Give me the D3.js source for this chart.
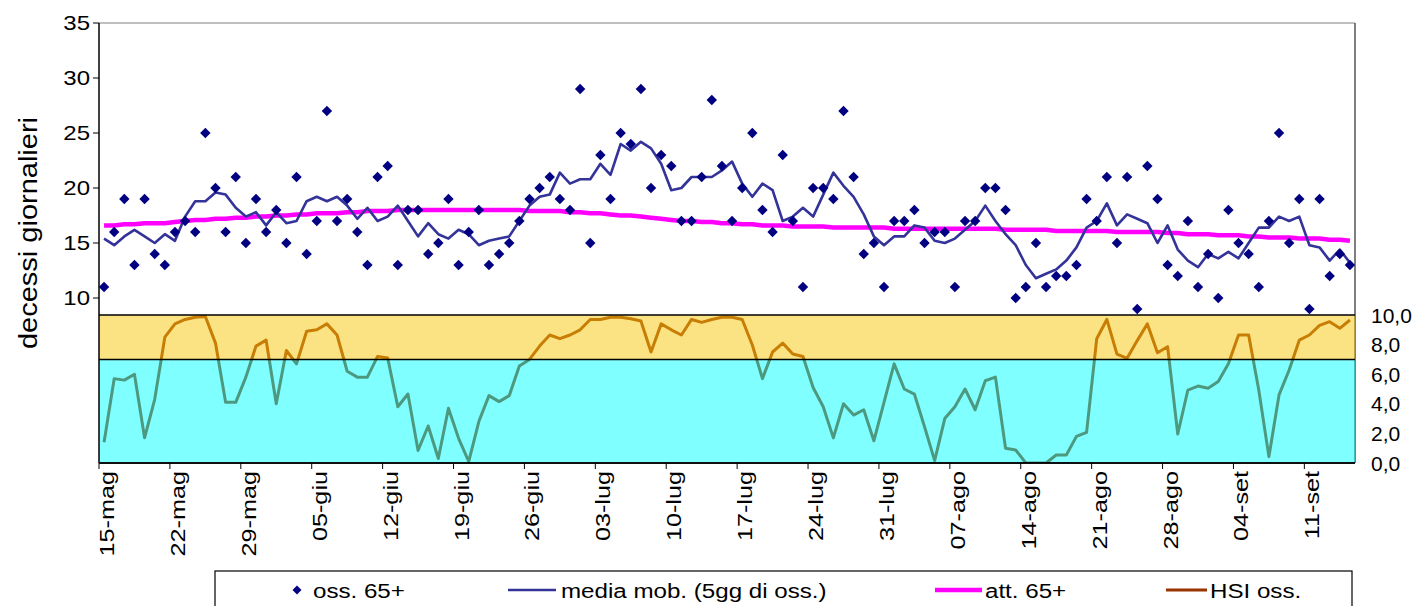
<!DOCTYPE html>
<html><head><meta charset="utf-8">
<script src="https://cdn.jsdelivr.net/npm/d3@7"></script>
<style>html,body{margin:0;padding:0;background:#fff;} svg{display:block;font-family:"Liberation Sans",Arial,sans-serif;}</style>
</head><body><svg id="c" width="1416" height="606"></svg>
<script>
const tickLabels = ["15-mag","22-mag","29-mag","05-giu","12-giu","19-giu","26-giu","03-lug","10-lug","17-lug","24-lug","31-lug","07-ago","14-ago","21-ago","28-ago","04-set","11-set"];
const leftTicks = [10,15,20,25,30,35];
const rightTicks = [0,2,4,6,8,10];
const obs65 = [11,16,19,13,19,14,13,16,17,16,25,20,16,21,15,19,16,18,15,21,14,17,27,17,19,16,13,21,22,13,18,18,14,15,19,13,16,18,13,14,15,17,19,20,21,19,18,29,15,23,19,25,24,29,20,23,22,17,17,21,28,22,17,20,25,18,16,23,17,11,20,20,19,27,21,14,15,11,17,17,18,15,16,16,11,17,17,20,20,18,10,11,15,11,12,12,13,19,17,21,15,21,9,22,19,13,12,17,11,14,10,18,15,14,11,17,25,15,19,9,19,12,14,13];
const mediaMob = [15.4,14.8,15.6,16.2,15.6,15.0,15.8,15.2,17.4,18.8,18.8,19.6,19.4,18.2,17.4,17.8,16.6,17.8,16.8,17.0,18.8,19.2,18.8,19.2,18.4,17.2,18.2,17.0,17.4,18.4,17.0,15.6,16.8,15.8,15.4,16.2,15.8,14.8,15.2,15.4,15.6,17.0,18.4,19.2,19.4,21.4,20.4,20.8,20.8,22.2,21.2,24.0,23.4,24.2,23.6,22.2,19.8,20.0,21.0,21.0,21.0,21.6,22.4,20.4,19.2,20.4,19.8,17.0,17.4,18.2,17.4,19.4,21.4,20.2,19.2,17.6,15.6,14.8,15.6,15.6,16.6,16.4,15.2,15.0,15.4,16.2,17.0,18.4,17.0,15.8,14.8,13.0,11.8,12.2,12.6,13.4,14.6,16.4,17.0,18.6,16.6,17.6,17.2,16.8,15.0,16.6,14.4,13.4,12.8,14.0,13.6,14.2,13.6,15.0,16.4,16.4,17.4,17.0,17.4,14.8,14.6,13.4,14.4,13.2];
const att65 = [16.6,16.6,16.7,16.7,16.8,16.8,16.8,16.9,17.0,17.1,17.1,17.2,17.2,17.3,17.3,17.4,17.4,17.5,17.5,17.6,17.6,17.7,17.7,17.7,17.8,17.8,17.9,17.9,17.9,18.0,18.0,18.0,18.0,18.0,18.0,18.0,18.0,18.0,18.0,18.0,18.0,18.0,17.9,17.9,17.9,17.9,17.8,17.8,17.7,17.7,17.6,17.5,17.5,17.4,17.3,17.2,17.1,17.0,17.0,16.9,16.9,16.8,16.8,16.7,16.7,16.6,16.6,16.6,16.5,16.5,16.5,16.5,16.4,16.4,16.4,16.4,16.4,16.4,16.3,16.3,16.3,16.3,16.3,16.3,16.3,16.3,16.3,16.3,16.3,16.2,16.2,16.2,16.2,16.2,16.1,16.1,16.1,16.1,16.1,16.1,16.0,16.0,16.0,16.0,16.0,15.9,15.9,15.8,15.8,15.8,15.7,15.7,15.7,15.6,15.6,15.5,15.5,15.5,15.4,15.4,15.4,15.3,15.3,15.2];
const hsiOss = [1.4,5.7,5.6,6.0,1.7,4.3,8.5,9.4,9.7,9.85,9.9,8.1,4.1,4.1,5.8,7.9,8.3,4.0,7.6,6.7,8.9,9.0,9.4,8.65,6.2,5.8,5.8,7.2,7.1,3.8,4.66,0.85,2.5,0.3,3.7,1.67,0.1,2.8,4.55,4.15,4.55,6.55,7.0,7.9,8.65,8.4,8.65,9.0,9.7,9.7,9.85,9.85,9.75,9.6,7.5,9.4,9.0,8.65,9.7,9.5,9.7,9.85,9.85,9.7,7.97,5.7,7.5,8.1,7.36,7.2,5.1,3.8,1.7,4.0,3.24,3.6,1.5,4.1,6.7,5.0,4.66,2.45,0.16,3.0,3.8,5.0,3.6,5.56,5.8,1.0,0.88,0.0,0.0,0.0,0.54,0.54,1.8,2.07,8.4,9.7,7.36,7.07,8.27,9.4,7.45,7.86,1.96,4.93,5.2,5.05,5.5,6.7,8.65,8.65,4.93,0.43,4.6,6.28,8.3,8.65,9.3,9.55,9.1,9.66];
const bandLimits = [0,7,10];
const legendLabels = ["oss. 65+","media mob. (5gg di oss.)","att. 65+","HSI oss."];

const svg = d3.select("#c");
const L = 99, R = 1355, T = 23, B = 463;
const n = obs65.length;
const x = d3.scaleLinear().domain([0, n]).range([L, R]);
const yL = d3.scaleLinear().domain([-5, 35]).range([B, T]);
const yR = d3.scaleLinear().domain([0, 10]).range([B, 315]);
const cx = i => x(i + 0.5);

svg.append("defs").append("clipPath").attr("id","clip").append("rect").attr("x",L).attr("y",T).attr("width",R-L).attr("height",B-T);

svg.append("line").attr("x1",L).attr("x2",R).attr("y1",T).attr("y2",T).attr("stroke","#808080").attr("stroke-width",1);
svg.append("line").attr("x1",R).attr("x2",R).attr("y1",T).attr("y2",B).attr("stroke","#555").attr("stroke-width",1.5);

const g = svg.append("g").attr("clip-path","url(#clip)");
g.append("path").datum(hsiOss)
  .attr("d", d3.line().x((d,i)=>cx(i)).y(d=>yR(d)))
  .attr("fill","none").attr("stroke","#993300").attr("stroke-width",3).attr("stroke-linejoin","round");

g.append("rect").attr("x",L).attr("width",R-L).attr("y",yR(bandLimits[2])).attr("height",yR(bandLimits[1])-yR(bandLimits[2]))
  .attr("fill","#F8C808").attr("fill-opacity",0.5);
g.append("rect").attr("x",L).attr("width",R-L).attr("y",yR(bandLimits[1])).attr("height",yR(bandLimits[0])-yR(bandLimits[1]))
  .attr("fill","#00FFFF").attr("fill-opacity",0.5);
bandLimits.forEach(v=>{
  svg.append("line").attr("x1",L).attr("x2",R).attr("y1",yR(v)).attr("y2",yR(v)).attr("stroke","#000").attr("stroke-width",1.5);
});

svg.append("path").datum(att65)
  .attr("d", d3.line().x((d,i)=>cx(i)).y(d=>yL(d)))
  .attr("fill","none").attr("stroke","#FF00FF").attr("stroke-width",4.5).attr("stroke-linejoin","round");

svg.append("path").datum(mediaMob)
  .attr("d", d3.line().x((d,i)=>cx(i)).y(d=>yL(d)))
  .attr("fill","none").attr("stroke","#333399").attr("stroke-width",2.6).attr("stroke-linejoin","round");

const dia = "M0,-5.2L5.2,0L0,5.2L-5.2,0Z";
svg.append("g").selectAll("path").data(obs65).join("path")
  .attr("d", dia).attr("transform",(d,i)=>`translate(${cx(i)},${yL(d)})`).attr("fill","#000080");

// text helper: stretched along baseline
function txt(parent, tx, ty, rot, sx, size, anchor, s) {
  return parent.append("text")
    .attr("transform", `translate(${tx},${ty}) rotate(${rot}) scale(${sx},1)`)
    .attr("text-anchor", anchor).attr("font-size", size).attr("fill","#000").text(s);
}

svg.append("line").attr("x1",L).attr("x2",L).attr("y1",T).attr("y2",B).attr("stroke","#000").attr("stroke-width",1.5);
const la = svg.append("g");
leftTicks.forEach(v=>{
  la.append("line").attr("x1",L-6).attr("x2",L).attr("y1",yL(v)).attr("y2",yL(v)).attr("stroke","#000");
  txt(la, L-9, yL(v)+7, 0, 1.2, 20, "end", v);
});
rightTicks.forEach(v=>{
  txt(svg, 1371, yR(v)+7.5, 0, 1, 21, "start", d3.format(".1f")(v).replace(".",","));
});

svg.append("line").attr("x1",L).attr("x2",R).attr("y1",B).attr("y2",B).attr("stroke","#000").attr("stroke-width",1.5);
tickLabels.forEach((t,k)=>{
  const xx = x(k*7);
  svg.append("line").attr("x1",xx).attr("x2",xx).attr("y1",B).attr("y2",B+6).attr("stroke","#000");
  txt(svg, xx+15, B+8, -90, 1.2, 21, "end", t);
});

txt(svg, 37, 233, -90, 1.16, 25, "middle", "decessi giornalieri");

const lg = svg.append("g");
lg.append("rect").attr("x",215).attr("y",571).attr("width",1137).attr("height",40).attr("fill","#fff").attr("stroke","#000").attr("stroke-width",1.2);
const ly = 590;
lg.append("path").attr("d","M0,-4.5L4.5,0L0,4.5L-4.5,0Z").attr("transform",`translate(297,${ly})`).attr("fill","#000080");
txt(lg, 313, ly+7.5, 0, 1.15, 21, "start", legendLabels[0]);
lg.append("line").attr("x1",508).attr("x2",556).attr("y1",ly).attr("y2",ly).attr("stroke","#333399").attr("stroke-width",2.6);
txt(lg, 561, ly+7.5, 0, 1.15, 21, "start", legendLabels[1]);
lg.append("line").attr("x1",935).attr("x2",982).attr("y1",ly).attr("y2",ly).attr("stroke","#FF00FF").attr("stroke-width",4.5);
txt(lg, 985, ly+7.5, 0, 1.15, 21, "start", legendLabels[2]);
lg.append("line").attr("x1",1166).attr("x2",1207).attr("y1",ly).attr("y2",ly).attr("stroke","#993300").attr("stroke-width",3);
txt(lg, 1210, ly+7.5, 0, 1.15, 21, "start", legendLabels[3]);
</script></body></html>
